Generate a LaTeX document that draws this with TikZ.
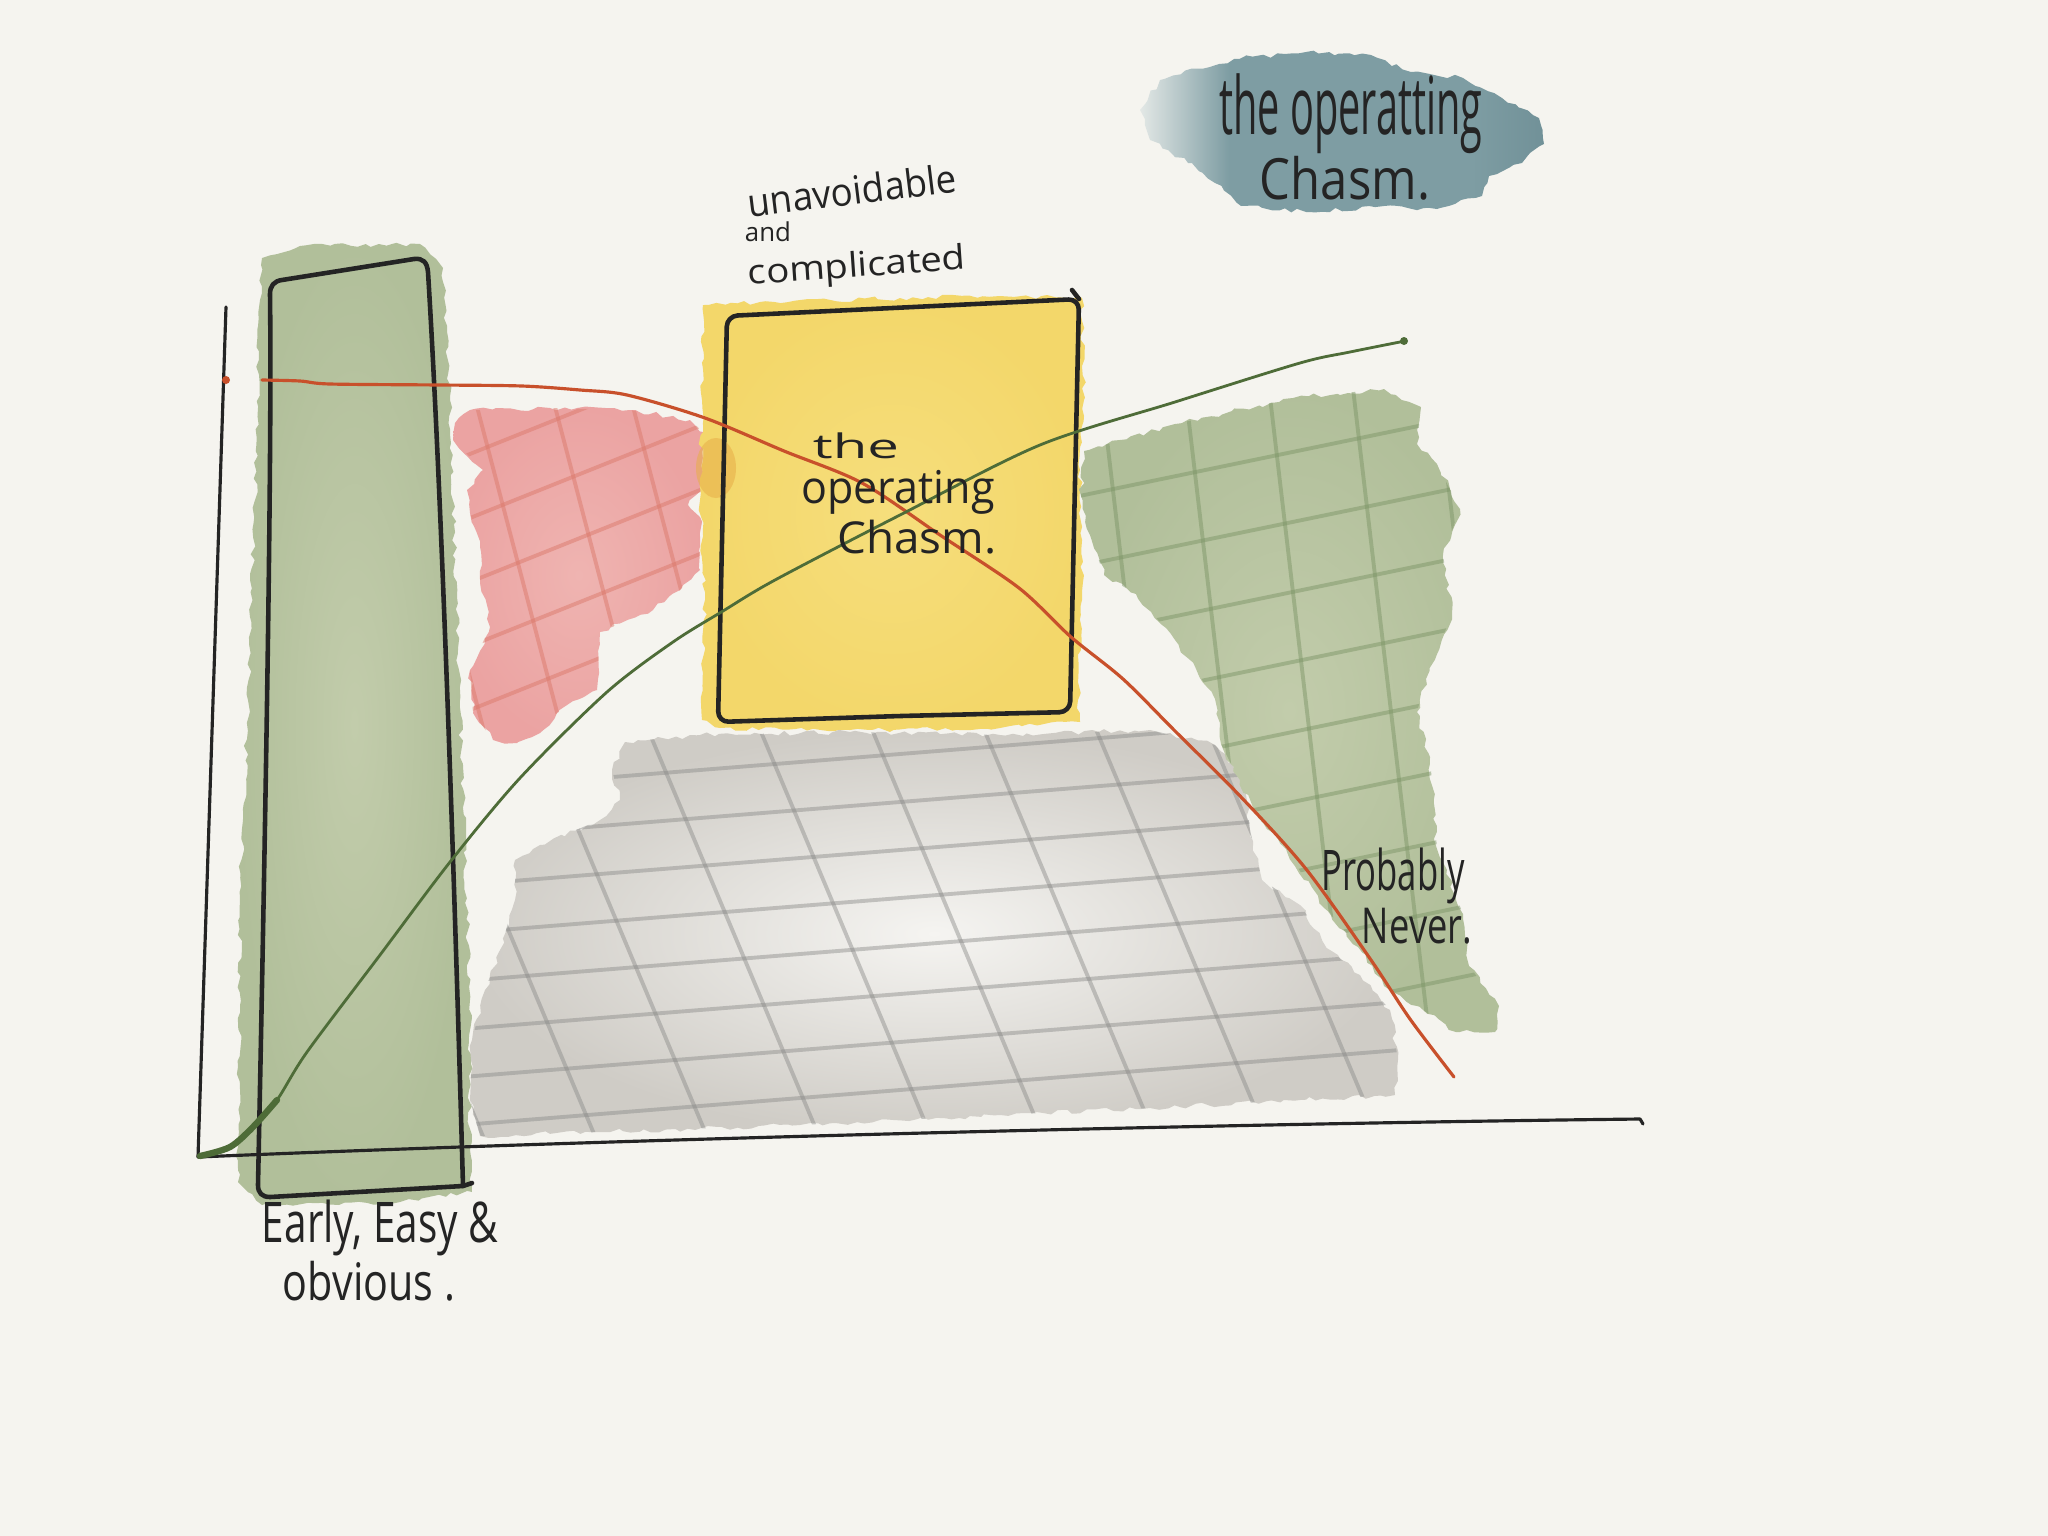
\documentclass[tikz,border=0pt]{standalone}
\usepackage{fontspec}
\usepackage{graphicx}
\newfontfamily\handfont{Open Sans}
\usetikzlibrary{decorations.pathmorphing}

\definecolor{paper}{HTML}{F5F4EF}
\definecolor{washgreen}{HTML}{B1BF9A}
\definecolor{washgreenlt}{HTML}{C2CCAB}
\definecolor{gridgreen}{HTML}{7F9769}
\definecolor{washpink}{HTML}{EBA3A2}
\definecolor{washpinklt}{HTML}{EFB4B1}
\definecolor{gridpink}{HTML}{DC7A6C}
\definecolor{washyellow}{HTML}{F3D76A}
\definecolor{washyellowlt}{HTML}{F6DE7C}
\definecolor{blotorange}{HTML}{E8AE48}
\definecolor{washgray}{HTML}{CFCCC6}
\definecolor{washgraylt}{HTML}{F5F4F1}
\definecolor{gridgray}{HTML}{8A8A88}
\definecolor{titleblue}{HTML}{7E9DA3}
\definecolor{titlebluedk}{HTML}{719198}
\definecolor{titlebluelt}{HTML}{E3E8E6}
\definecolor{redline}{HTML}{C8502B}
\definecolor{greenline}{HTML}{4E6C38}
\definecolor{inkc}{HTML}{242424}

% horizontal wash for the title: soft on the left, even across the rest
\pgfdeclarehorizontalshading{titlewash}{100bp}{color(0bp)=(titlebluelt); color(25bp)=(titlebluelt);
  color(36bp)=(titleblue); color(66bp)=(titleblue); color(75bp)=(titlebluedk); color(100bp)=(titlebluedk)}

\newcommand{\handtext}[3]{\resizebox*{#1}{#2}{\handfont #3}}

\tikzset{
  washedge/.style={decorate, decoration={random steps, segment length=2pt, amplitude=0.7pt}},
  inkline/.style={draw=inkc, line width=1.3pt, line cap=round, line join=round},
  axisline/.style={draw=inkc, line width=0.9pt, line cap=round, line join=round},
  pencil/.style={line width=1.1pt, line cap=round},
  label/.style={inner sep=0pt, text=inkc},
}

\begin{document}
\begin{tikzpicture}[x=0.01cm, y=-0.01cm]
\pgfmathsetseed{11}
\useasboundingbox (0,0) rectangle (2048,1536);
\fill[paper] (0,0) rectangle (2048,1536);

% ---- tall green column: early, easy and obvious ----
\shade[washedge, inner color=washgreenlt, outer color=washgreen]
  (262,258) -- (300,246) -- (420,244) -- (443,268) -- (450,400) -- (460,700) -- (470,1000)
  -- (470,1150) -- (472,1192) -- (400,1202) -- (262,1205) -- (238,1182) -- (240,900)
  -- (248,700) -- (255,500) -- (260,300) -- cycle;

% ---- pink wash with its grid ----
\shade[washedge, inner color=washpinklt, outer color=washpink]
  (455,423) -- (470,410) -- (550,408) -- (630,410) -- (690,420) -- (703,432) -- (702,490)
  -- (688,505) -- (700,517) -- (700,570) -- (680,590) -- (653,610) -- (600,632) -- (597,690)
  -- (557,713) -- (540,733) -- (517,743) -- (493,740) -- (473,713) -- (470,670) -- (490,627)
  -- (480,580) -- (480,547) -- (470,513) -- (467,490) -- (483,470) -- (453,440) -- cycle;
\begin{scope}
  \clip (455,423) -- (470,410) -- (550,408) -- (630,410) -- (690,420) -- (703,432) -- (702,490)
  -- (688,505) -- (700,517) -- (700,570) -- (680,590) -- (653,610) -- (600,632) -- (597,690)
  -- (557,713) -- (540,733) -- (517,743) -- (493,740) -- (473,713) -- (470,670) -- (490,627)
  -- (480,580) -- (480,547) -- (470,513) -- (467,490) -- (483,470) -- (453,440) -- cycle;
  \foreach \k in {-3,...,4}
    \draw[pencil, gridpink, opacity=0.5, shift={(\k*78,0)}] (470,380) -- ++(110,420);
  \foreach \k in {-1,...,7}
    \draw[pencil, gridpink, opacity=0.5, shift={(0,\k*64)}] (430,470) -- ++(320,-128);
\end{scope}

% ---- yellow wash ----
\shade[washedge, inner color=washyellowlt, outer color=washyellow]
  (703,305) -- (760,302) -- (900,298) -- (1000,296) -- (1082,298) -- (1084,400) -- (1080,470)
  -- (1082,600) -- (1078,700) -- (1080,722) -- (1000,728) -- (850,730) -- (720,728)
  -- (702,720) -- (705,600) -- (700,500) -- (702,400) -- cycle;
\fill[blotorange, opacity=0.55] (716,468) ellipse (20 and 30);

% ---- grey wash with its grid ----
\shade[washedge, inner color=washgraylt, outer color=washgray]
  (625,742) -- (700,735) -- (850,732) -- (1000,735) -- (1150,730) -- (1215,745) -- (1245,780)
  -- (1250,830) -- (1262,880) -- (1300,905) -- (1330,950) -- (1360,975) -- (1390,1010)
  -- (1398,1060) -- (1395,1095) -- (1300,1100) -- (1150,1108) -- (1000,1115) -- (800,1125)
  -- (600,1132) -- (480,1136) -- (470,1100) -- (472,1040) -- (485,990) -- (500,950)
  -- (515,900) -- (515,860) -- (540,845) -- (600,820) -- (620,800) -- (612,770) -- cycle;
\begin{scope}
  \clip (625,742) -- (700,735) -- (850,732) -- (1000,735) -- (1150,730) -- (1215,745) -- (1245,780)
  -- (1250,830) -- (1262,880) -- (1300,905) -- (1330,950) -- (1360,975) -- (1390,1010)
  -- (1398,1060) -- (1395,1095) -- (1300,1100) -- (1150,1108) -- (1000,1115) -- (800,1125)
  -- (600,1132) -- (480,1136) -- (470,1100) -- (472,1040) -- (485,990) -- (500,950)
  -- (515,900) -- (515,860) -- (540,845) -- (600,820) -- (620,800) -- (612,770) -- cycle;
  \foreach \k in {0,...,8}
    \draw[pencil, gridgray, opacity=0.45, shift={(0,\k*48)}] (450,790) -- ++(1000,-80);
  \foreach \k in {-1,...,8}
    \draw[pencil, gridgray, opacity=0.45, shift={(\k*112,0)}] (420,720) -- ++(185,440);
\end{scope}

% ---- green wash on the right with its grid ----
\shade[washedge, inner color=washgreenlt, outer color=washgreen]
  (1084,451) -- (1175,424) -- (1293,398) -- (1384,389) -- (1421,407) -- (1417,444) -- (1437,464)
  -- (1460,509) -- (1443,555) -- (1452,614) -- (1426,679) -- (1417,712) -- (1430,757)
  -- (1437,849) -- (1463,914) -- (1469,966) -- (1499,1006) -- (1495,1032) -- (1456,1032)
  -- (1417,1006) -- (1384,986) -- (1358,947) -- (1319,901) -- (1286,849) -- (1254,810)
  -- (1221,744) -- (1215,699) -- (1175,640) -- (1136,594) -- (1104,575) -- (1090,535)
  -- (1081,496) -- cycle;
\begin{scope}
  \clip (1084,451) -- (1175,424) -- (1293,398) -- (1384,389) -- (1421,407) -- (1417,444) -- (1437,464)
  -- (1460,509) -- (1443,555) -- (1452,614) -- (1426,679) -- (1417,712) -- (1430,757)
  -- (1437,849) -- (1463,914) -- (1469,966) -- (1499,1006) -- (1495,1032) -- (1456,1032)
  -- (1417,1006) -- (1384,986) -- (1358,947) -- (1319,901) -- (1286,849) -- (1254,810)
  -- (1221,744) -- (1215,699) -- (1175,640) -- (1136,594) -- (1104,575) -- (1090,535)
  -- (1081,496) -- cycle;
  \foreach \k in {0,...,5}
    \draw[pencil, gridgreen, opacity=0.5, shift={(\k*84,0)}] (1100,380) -- ++(80,680);
  \foreach \k in {0,...,9}
    \draw[pencil, gridgreen, opacity=0.5, shift={(0,\k*70)}] (1060,500) -- ++(460,-95);
\end{scope}

% ---- box outlines ----
\draw[inkline] (282,280) -- (414,259) .. controls (423,258) and (427,262) .. (428,272)
  .. controls (442,500) and (455,900) .. (463,1186) -- (270,1197)
  .. controls (262,1197) and (258,1193) .. (258,1185)
  .. controls (266,800) and (272,450) .. (270,294)
  .. controls (270,286) and (274,281) .. cycle;
\draw[inkline] (463,1186) -- (472,1183);
\draw[inkline, rounded corners=3pt] (727,316) -- (1079,299) -- (1070,712) -- (900,716)
  -- (718,722) -- cycle;
\draw[inkline] (1079,299) -- (1072,290);

% ---- axes ----
\coordinate (origin) at (198,1157);
\coordinate (ytop) at (226,307);
\coordinate (xend) at (1640,1119);
\draw[axisline] (ytop) -- (origin);
\draw[axisline] (origin) .. controls (600,1140) and (1200,1124) .. (xend) -- (1643,1124);

% ---- curves ----
\fill[redline] (226,380) circle (4);
\draw[redline, line width=0.9pt, line cap=round]
  plot[smooth, tension=0.5] coordinates {(262,380) (300,381) (330,384) (440,385) (522,386)
  (580,390) (627,395) (705,418) (784,451) (862,483) (940,535) (1019,588) (1071,637)
  (1123,679) (1175,731) (1241,797) (1306,869) (1371,960) (1410,1019) (1454,1077)};
\draw[greenline, line width=0.8pt, line cap=round]
  plot[smooth, tension=0.5] coordinates {(200,1156) (230,1147) (253,1127) (277,1100)
  (307,1052) (380,955) (450,862) (520,778) (607,692) (673,642) (723,611) (775,580)
  (900,515) (1040,445) (1175,402) (1300,363) (1350,352) (1405,341)};
\draw[greenline, line width=1.8pt, line cap=round]
  plot[smooth] coordinates {(200,1156) (230,1147) (253,1127) (277,1100)};
\fill[greenline] (1404,341) circle (4);

% ---- title wash ----
\shade[washedge, shading=titlewash]
  (1160,80) -- (1234,59) -- (1306,52) -- (1371,55) -- (1411,72) -- (1463,78) -- (1502,98)
  -- (1539,118) -- (1544,144) -- (1522,163) -- (1489,176) -- (1482,196) -- (1437,209)
  -- (1384,206) -- (1306,212) -- (1241,206) -- (1215,183) -- (1188,163) -- (1150,140)
  -- (1140,110) -- cycle;

% ---- handwritten labels ----
\node[label] (title1) at (1351,114) {\handtext{2.63cm}{0.80cm}{the operatting}};
\node[label] (title2) at (1345,178) {\handtext{1.70cm}{0.44cm}{Chasm.}};

\node[label] (mid1) at (856,446) {\handtext{0.86cm}{0.26cm}{the}};
\node[label] (mid2) at (898,492) {\handtext{1.93cm}{0.44cm}{operating}};
\node[label] (mid3) at (917,537) {\handtext{1.59cm}{0.34cm}{Chasm.}};

\node[label, rotate=7] (top1) at (852,190) {\handtext{2.10cm}{0.30cm}{unavoidable}};
\node[label] (top2) at (768,232) {\handtext{0.46cm}{0.20cm}{and}};
\node[label, rotate=4] (top3) at (857,268) {\handtext{2.18cm}{0.34cm}{complicated}};

\node[label] (low1) at (380,1228) {\handtext{2.36cm}{0.56cm}{Early, Easy \&}};
\node[label] (low2) at (369,1281) {\handtext{1.72cm}{0.40cm}{obvious .}};

\node[label] (right1) at (1393,876) {\handtext{1.43cm}{0.56cm}{Probably}};
\node[label] (right2) at (1417,926) {\handtext{1.10cm}{0.36cm}{Never.}};
\end{tikzpicture}
\end{document}
